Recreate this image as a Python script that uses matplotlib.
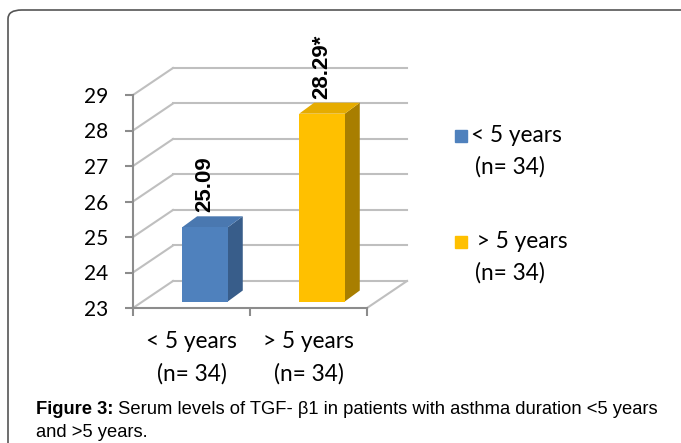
import matplotlib
matplotlib.use('Agg')
import matplotlib.pyplot as plt
from matplotlib.patches import Polygon, FancyBboxPatch
import numpy as np

# data
categories = ['< 5 years\n(n= 34)', '> 5 years\n(n= 34)']
legend_labels = ['< 5 years\n(n= 34)', ' > 5 years\n(n= 34)']
values = [25.09, 28.29]
value_labels = ['25.09', '28.29*']
yticks = [23, 24, 25, 26, 27, 28, 29]

front_colors = ['#4F81BD', '#FFC000']
side_colors = ['#385D8A', '#A87E00']
top_colors = ['#4A78B0', '#E6AC00']
grid_color = '#BFBFBF'

W, H = 681, 443
fig = plt.figure(figsize=(W / 100, H / 100), dpi=100)

# rounded frame around the figure panel
frame = FancyBboxPatch((8 / W, -0.1), 1.2, 1.1 - 10 / H,
                       boxstyle='round,pad=0,rounding_size=0.02',
                       transform=fig.transFigure, fill=False,
                       edgecolor='#555555', linewidth=1.2)
fig.patches.append(frame)

# axes covering the front plane of the 3D chart (pixels 133..420, 40..308)
ax = fig.add_axes([133 / W, (H - 308) / H, (420 - 133) / W, (308 - 40) / H])
ax.set_xlim(0, 287 / 117)
ax.set_ylim(23, 23 + 268 / 35.5)
ax.patch.set_alpha(0)

font = 'Lato'
fs = 15
fs_cat = 16.3

# depth of the back wall, in data units
ddx, ddy = 40 / 117, 27 / 35.5
xmax = len(values)

# back wall gridlines + left wall diagonals
for v in yticks:
    ax.plot([0, ddx], [v, v + ddy], color=grid_color, lw=1.5, clip_on=False, zorder=1)
    ax.plot([ddx, xmax + ddx], [v + ddy, v + ddy], color=grid_color, lw=1.5,
            clip_on=False, zorder=1)
# floor right edge
ax.plot([xmax, xmax + ddx], [yticks[0], yticks[0] + ddy], color=grid_color, lw=1.5,
        clip_on=False, zorder=1)

# bars: front face, side face, top face
x = np.arange(len(values)) + 0.5
bw = 0.39
xs, ys = 0.115, 6.5 / 35.5          # bar set back from the front plane
bdx, bdy = 15 / 117, 11 / 35.5      # bar depth
base = yticks[0]
for i, v in enumerate(values):
    xl = x[i] + xs - bw / 2
    xr = x[i] + xs + bw / 2
    side = Polygon([(xr, base + ys), (xr, v + ys), (xr + bdx, v + ys + bdy),
                    (xr + bdx, base + ys + bdy)], closed=True,
                   facecolor=side_colors[i], edgecolor='none', zorder=3)
    top = Polygon([(xl, v + ys), (xr, v + ys), (xr + bdx, v + ys + bdy),
                   (xl + bdx, v + ys + bdy)], closed=True,
                  facecolor=top_colors[i], edgecolor='none', zorder=3)
    ax.add_patch(side)
    ax.add_patch(top)
    ax.bar(x[i] + xs, v - base, bottom=base + ys, width=bw, color=front_colors[i],
           zorder=4, clip_on=False)
    ax.annotate(value_labels[i], (x[i] + xs, v + ys), xytext=(0, 15),
                textcoords='offset pixels', rotation=90, ha='center', va='bottom',
                fontsize=16, fontweight='bold', family='Liberation Sans',
                annotation_clip=False)

# axis lines and ticks
for s in ['top', 'right']:
    ax.spines[s].set_visible(False)
ax.spines['left'].set_bounds(yticks[0], yticks[-1])
ax.spines['bottom'].set_bounds(0, xmax)
for s in ['left', 'bottom']:
    ax.spines[s].set_color('#8C8C8C')
    ax.spines[s].set_linewidth(1.5)
ax.set_yticks(yticks)
ax.set_yticklabels([str(t) for t in yticks], fontsize=fs, family=font)
ax.set_xticks(np.arange(xmax + 1))
ax.set_xticklabels([])
ax.tick_params(axis='both', direction='out', length=6, width=1.5, color='#8C8C8C')
ax.tick_params(axis='y', pad=12)

for i, c in enumerate(categories):
    line1, line2 = c.split('\n')
    ax.annotate(line1, (x[i], base), xytext=(0, -33), textcoords='offset pixels',
                ha='center', va='center', fontsize=fs_cat, family=font,
                annotation_clip=False)
    ax.annotate(line2, (x[i], base), xytext=(0, -66), textcoords='offset pixels',
                ha='center', va='center', fontsize=fs_cat, family=font,
                annotation_clip=False)

# legend drawn by hand
leg_y = [136, 242]
for i, lab in enumerate(legend_labels):
    l1, l2 = lab.split('\n')
    fig.patches.append(plt.Rectangle((455 / W, (H - leg_y[i] - 6) / H), 12 / W, 12 / H,
                                     transform=fig.transFigure, color=front_colors[i]))
    fig.text(471 / W, (H - leg_y[i]) / H, l1, fontsize=fs_cat, family=font, va='center')
    fig.text(475 / W, (H - leg_y[i] - 31) / H, l2, fontsize=fs_cat, family=font,
             va='center')

# caption
cap_font = 'Liberation Sans'
cap_fs = 13.2
t1 = fig.text(36 / W, (H - 414) / H, 'Figure 3:', fontsize=cap_fs, fontweight='bold',
              family=cap_font, va='baseline')
ax.annotate(' Serum levels of TGF- \u03b21 in patients with asthma duration <5 years',
            xy=(1, 0), xycoords=t1, fontsize=cap_fs, family=cap_font, va='bottom',
            annotation_clip=False)
fig.text(36 / W, (H - 437) / H, 'and >5 years.', fontsize=cap_fs, family=cap_font,
         va='baseline')

plt.savefig('out.png', dpi=100)
